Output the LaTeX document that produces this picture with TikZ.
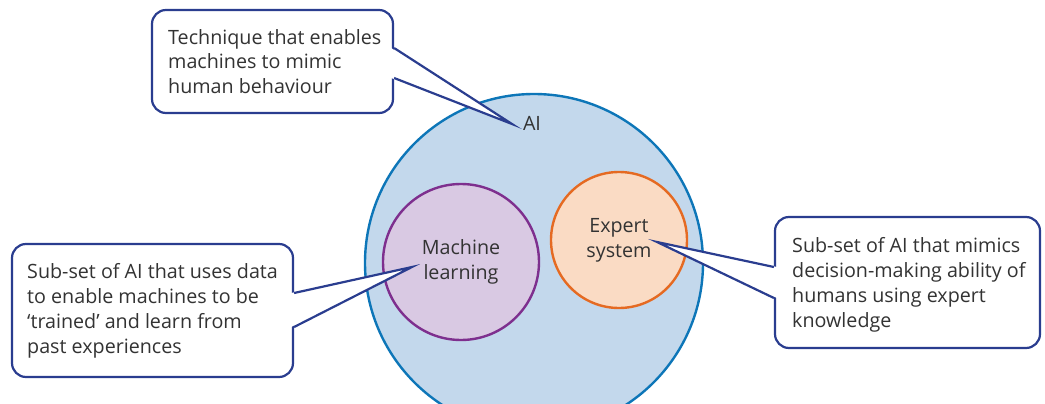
\documentclass[tikz,border=0pt]{standalone}
\usepackage{fontspec}
\setmainfont{Open Sans}
\definecolor{txt}{HTML}{333333}
\definecolor{callline}{HTML}{2A3D8F}
\definecolor{aifill}{HTML}{C3D8EC}
\definecolor{ailine}{HTML}{0D76B8}
\definecolor{mlfill}{HTML}{D9C9E3}
\definecolor{mlline}{HTML}{7E2F8E}
\definecolor{esfill}{HTML}{FADBC4}
\definecolor{esline}{HTML}{E56A22}
\begin{document}
\begin{tikzpicture}[x=1pt,y=-1pt,
  every node/.style={text=txt},
  lbl/.style={font=\fontsize{19.7}{25}\selectfont},
  callbox/.style={draw=callline, fill=white, line width=2.2pt, rounded corners=14pt, inner sep=0pt},
  calltext/.style={lbl, align=left, anchor=base west, inner sep=0pt},
  wedge/.style={fill=white},
  wedgeline/.style={draw=callline, line width=2.2pt, line join=miter},
  setcircle/.style={circle, line width=2.4pt, inner sep=0pt, lbl, align=center}
]
\useasboundingbox (0,0) rectangle (1045,404);
% circles
\node[setcircle, draw=ailine, fill=aifill, minimum size=338pt] (ai) at (534,263) {};
\node[lbl, anchor=base] (ailabel) at (532,131) {AI};
\node[setcircle, draw=mlline, fill=mlfill, minimum size=156pt] (ml) at (461,262) {Machine\\learning};
\node[setcircle, draw=esline, fill=esfill, minimum size=136pt] (es) at (619,240) {Expert\\system};
% tips
\coordinate (tipAI) at (512,124);
\coordinate (tipML) at (412,267);
\coordinate (tipES) at (657,242);
% top callout
\node[callbox, minimum width=241pt, minimum height=103pt] (boxTop) at (272.5,61.5) {};
\coordinate (t1) at (boxTop.east |- 0,48);
\coordinate (t2) at (boxTop.east |- 0,78);
\fill[wedge] ([xshift=-3pt]t1) -- (tipAI) -- ([xshift=-3pt]t2) -- cycle;
\draw[wedgeline] (t1) -- (tipAI) -- (t2);
\node[calltext] (txtTop) at (168,94) {Technique that enables\\machines to mimic\\human behaviour};
% left callout
\node[callbox, minimum width=281pt, minimum height=133pt] (boxLeft) at (152.5,310.5) {};
\coordinate (l1) at (boxLeft.east |- 0,293);
\coordinate (l2) at (boxLeft.east |- 0,327);
\fill[wedge] ([xshift=-3pt]l1) -- (tipML) -- ([xshift=-3pt]l2) -- cycle;
\draw[wedgeline] (l1) -- (tipML) -- (l2);
\node[calltext] (txtLeft) at (27,353) {Sub-set of AI that uses data\\to enable machines to be\\`trained' and learn from\\past experiences};
% right callout
\node[callbox, minimum width=265pt, minimum height=131pt] (boxRight) at (907.5,282.5) {};
\coordinate (r1) at (boxRight.west |- 0,267);
\coordinate (r2) at (boxRight.west |- 0,298);
\fill[wedge] ([xshift=3pt]r1) -- (tipES) -- ([xshift=3pt]r2) -- cycle;
\draw[wedgeline] (r1) -- (tipES) -- (r2);
\node[calltext] (txtRight) at (792,327) {Sub-set of AI that mimics\\decision-making ability of\\humans using expert\\knowledge};
\end{tikzpicture}
\end{document}
